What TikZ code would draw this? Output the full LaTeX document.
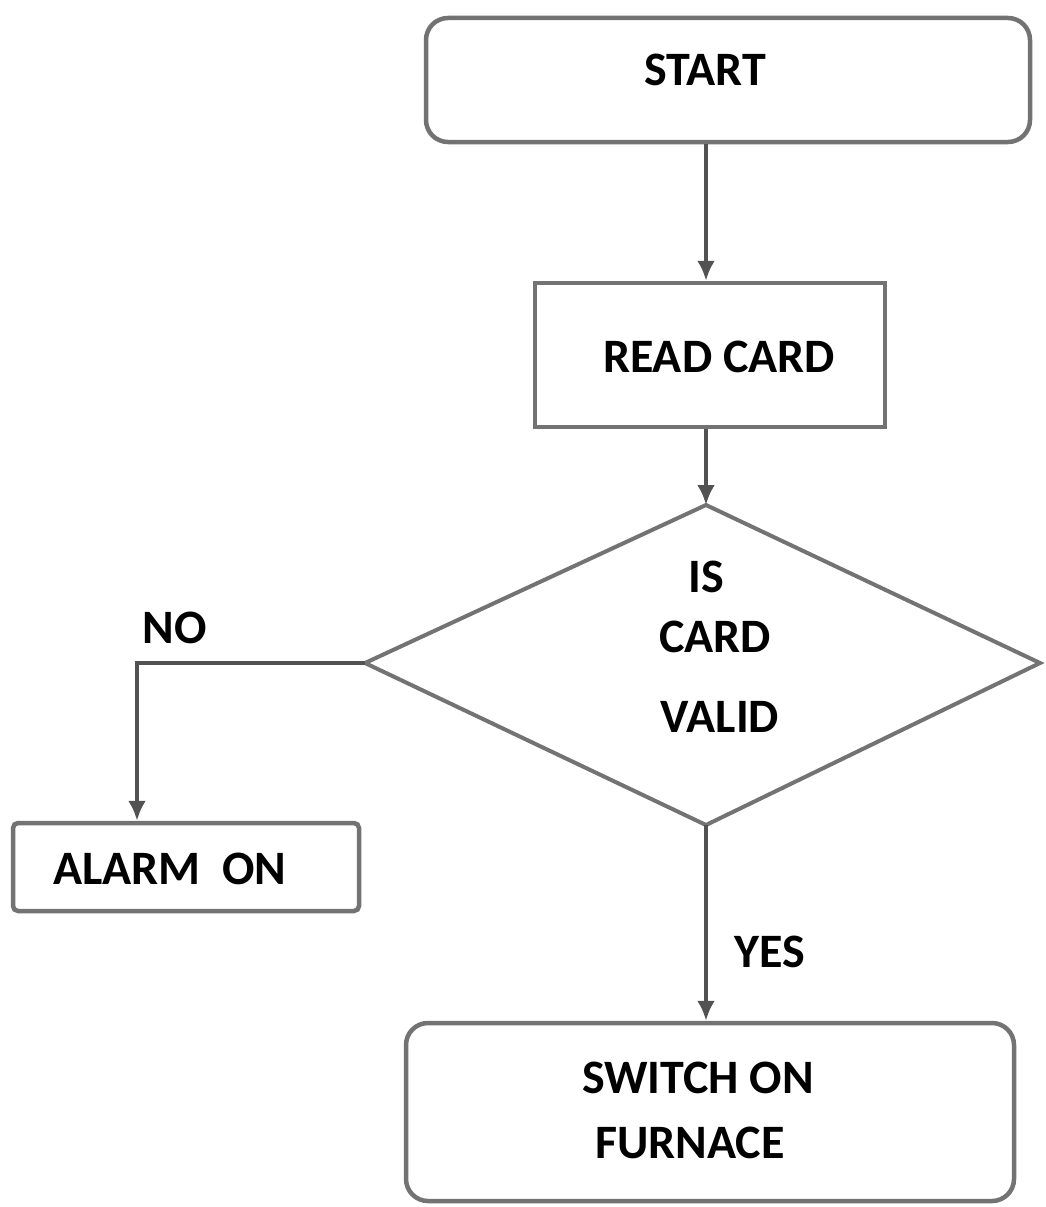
\documentclass[tikz,border=0pt]{standalone}
\usepackage{fontspec}
\setmainfont{Carlito}
\usetikzlibrary{arrows.meta,calc}
\begin{document}
\begin{tikzpicture}[x=1pt,y=-1pt,
  box/.style={draw=black!55,line width=4.5pt,fill=white,inner sep=0pt},
  rbox/.style={box,rounded corners=22pt},
  lbl/.style={inner sep=0pt,font=\fontsize{48}{58}\selectfont\bfseries,text=black},
  conn/.style={draw=black!68,line width=4pt,arrows={-Latex[length=20pt,width=18pt]}}]
\useasboundingbox (0,0) rectangle (1046,1207);
% nodes
\node[rbox,minimum width=604pt,minimum height=124pt] (start) at (728,80) {};
\node[lbl] (startt) at (705,70) {START};
\node[box,minimum width=350pt,minimum height=144pt] (read) at (710,355) {};
\node[lbl] (readt) at (719,357) {READ CARD};
\coordinate (dT) at (706,505);
\coordinate (dR) at (1040,663);
\coordinate (dB) at (706,825);
\coordinate (dL) at (365,663);
\draw[draw=black!55,line width=4pt,line join=miter] (dT) -- (dR) -- (dB) -- (dL) -- cycle;
\node[lbl] (is) at (706,577) {IS};
\node[lbl] (card) at (715,637) {CARD};
\node[lbl] (valid) at (720,717) {VALID};
\node[box,rounded corners=5pt,minimum width=346pt,minimum height=88pt] (alarm) at (186,867) {};
\node[lbl] (alarmt) at (170,869) {ALARM\ \ ON};
\node[rbox,minimum width=608pt,minimum height=178pt] (switch) at (710,1112) {};
\node[lbl] (sw1) at (698,1078) {SWITCH ON};
\node[lbl] (sw2) at (690,1143) {FURNACE};
\node[lbl] (no) at (175,628) {NO};
\node[lbl] (yes) at (770,952) {YES};
\coordinate (bend) at (137,663);
% connectors
\draw[conn] (dT |- start.south) -- (dT |- read.north);
\draw[conn] (dT |- read.south) -- (dT);
\draw[conn] (dL) -- (bend) -- (bend |- alarm.north);
\draw[conn] (dB) -- (dB |- switch.north);
\end{tikzpicture}
\end{document}
